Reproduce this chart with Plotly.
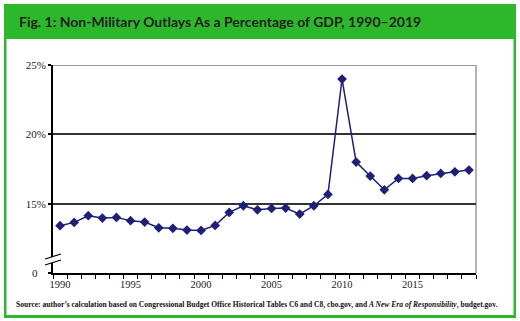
import plotly.graph_objects as go

years = list(range(1990, 2020))
outlays_pct = [13.41, 13.65, 14.13, 13.96, 14.01, 13.77, 13.67, 13.26, 13.22, 13.10,
               13.07, 13.43, 14.37, 14.85, 14.56, 14.66, 14.68, 14.25, 14.85, 15.67,
               23.99, 18.00, 16.99, 16.00, 16.82, 16.82, 17.02, 17.18, 17.30, 17.42]
x_tick_years = [1990, 1995, 2000, 2005, 2010, 2015]
y_tick_vals = [10, 15, 20, 25]
y_tick_text = ["0\u00a0\u00a0\u00a0", "15%", "20%", "25%"]

W, H = 520, 321
ML, MR, MT, MB = 53, 44, 65, 48
PW, PH = W - ML - MR, H - MT - MB

def px(x):
    return (x - ML) / PW

def py(y):
    return 1 - (y - MT) / PH

GREEN = "#2DB82B"
NAVY = "#1F1F78"

fig = go.Figure()
fig.add_trace(go.Scatter(
    x=years, y=outlays_pct, mode="lines+markers",
    line=dict(color=NAVY, width=1.5),
    marker=dict(symbol="diamond", size=7.5, color=NAVY),
    hoverinfo="skip", showlegend=False,
))

shapes = []
# title band and green frame
shapes.append(dict(type="rect", xref="paper", yref="paper", x0=px(4), x1=px(516), y0=py(4), y1=py(39),
                   fillcolor=GREEN, line=dict(width=0), layer="above"))
shapes.append(dict(type="rect", xref="paper", yref="paper", x0=px(4), x1=px(6.5), y0=py(39), y1=py(318),
                   fillcolor=GREEN, line=dict(width=0), layer="above"))
shapes.append(dict(type="rect", xref="paper", yref="paper", x0=px(513.5), x1=px(516), y0=py(39), y1=py(318),
                   fillcolor=GREEN, line=dict(width=0), layer="above"))
shapes.append(dict(type="rect", xref="paper", yref="paper", x0=px(4), x1=px(516), y0=py(315), y1=py(318),
                   fillcolor=GREEN, line=dict(width=0), layer="above"))
# grey top gridline and right border of plot area
shapes.append(dict(type="line", xref="paper", yref="y", x0=0, x1=1, y0=25, y1=25,
                   line=dict(color="#9a9a9a", width=2), layer="between"))
shapes.append(dict(type="line", xref="paper", yref="paper", x0=1, x1=1, y0=0, y1=1,
                   line=dict(color="#9a9a9a", width=1.5), layer="between"))
# axis break marks
shapes.append(dict(type="path", xref="paper", yref="paper",
                   path=f"M {px(45)},{py(259)} L {px(61)},{py(254)} L {px(61)},{py(260)} L {px(45)},{py(265)} Z",
                   fillcolor="white", line=dict(width=0), layer="above"))
for (y0, y1) in [(259, 254), (265, 260)]:
    shapes.append(dict(type="line", xref="paper", yref="paper", x0=px(45), x1=px(61), y0=py(y0), y1=py(y1),
                       line=dict(color="black", width=1.2), layer="above"))

fig.update_layout(
    width=W, height=H,
    margin=dict(l=ML, r=MR, t=MT, b=MB, pad=0),
    paper_bgcolor="white", plot_bgcolor="white",
    shapes=shapes,
    xaxis=dict(range=[1989.5, 2019.5], tickvals=x_tick_years, ticks="", showgrid=False,
               showline=True, linecolor="black", linewidth=2, zeroline=False,
               tickfont=dict(family="Liberation Serif", size=10.5, color="#222"),
               minor=dict(ticks="outside", ticklen=4, tickwidth=1.2, tickcolor="black",
                          tickmode="linear", tick0=1989.5, dtick=1, showgrid=False)),
    yaxis=dict(range=[10, 25], tickvals=y_tick_vals, ticktext=y_tick_text,
               ticks="outside", ticklen=3, tickwidth=1.5, tickcolor="black",
               showgrid=True, gridcolor="#333333", gridwidth=2,
               showline=True, linecolor="black", linewidth=2, zeroline=False,
               tickfont=dict(family="Liberation Serif", size=11, color="#222")),
    annotations=[
        dict(xref="paper", yref="paper", x=px(17), y=py(21.5), xanchor="left", yanchor="middle",
             text="<b>Fig. 1: Non-Military Outlays As a Percentage of GDP, 1990\u20132019</b>",
             showarrow=False, font=dict(family="Lato", size=14, color="#231F20")),
        dict(xref="paper", yref="paper", x=px(256), y=py(304), xanchor="center", yanchor="middle",
             text="<b>Source: author\u2019s calculation based on Congressional Budget Office Historical Tables C6 and C8, cbo.gov, and <i>A New Era of Responsibility</i>, budget.gov.</b>",
             showarrow=False, font=dict(family="Liberation Serif", size=7.55, color="#111")),
    ],
)

fig.write_html("out.html")
